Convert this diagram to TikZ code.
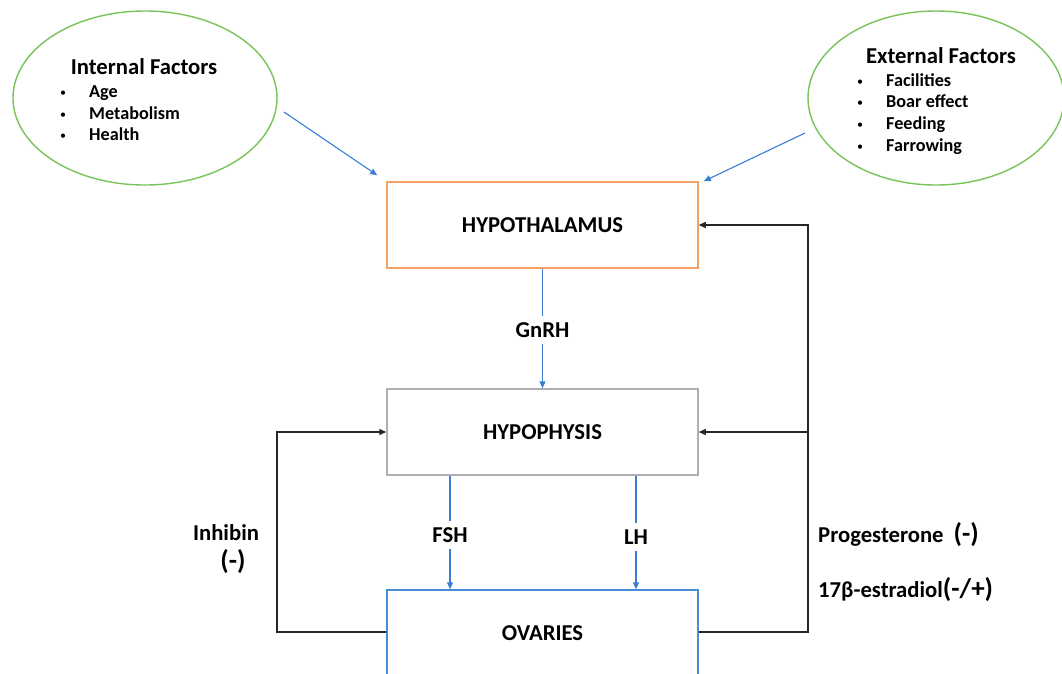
\documentclass[tikz,border=0pt]{standalone}
\usepackage{fontspec}
\setmainfont{Carlito}
\usetikzlibrary{arrows.meta,calc,shapes.geometric}
\definecolor{arrowblue}{RGB}{58,125,212}
\definecolor{boxorange}{RGB}{245,160,100}
\definecolor{boxgray}{RGB}{175,175,175}
\definecolor{boxblue}{RGB}{70,140,215}
\definecolor{ellgreen}{RGB}{120,195,90}
\tikzset{
  base/.style={font=\bfseries\fontsize{22.7}{27}\selectfont},
  item/.style={font=\bfseries\fontsize{18.2}{21.5}\selectfont, inner sep=0pt},
  bul/.style={font=\fontsize{12}{14}\selectfont, inner sep=0pt},
  factor/.style={draw=ellgreen, line width=1.4pt, ellipse, minimum height=174pt, inner sep=0pt},
  organ/.style={base, line width=1.5pt, minimum width=311pt, minimum height=86pt, inner sep=0pt},
  lbl/.style={base, inner sep=3pt},
  bluearrow/.style={draw=arrowblue, line width=1.1pt, -{Triangle[length=7pt,width=6pt]}},
  blueline/.style={draw=arrowblue, line width=1.1pt},
  fb/.style={draw=black!85, line width=1.2pt},
  fbarrow/.style={fb, -{Triangle[length=7pt,width=6pt]}}
}
\begin{document}
\begin{tikzpicture}[x=1pt,y=-1pt]
\clip (0,0) rectangle (1062,673);
\fill[white] (0,0) rectangle (1062,673);

% factor ellipses
\node[factor, minimum width=264pt] (int) at (145,98) {};
\node[factor, minimum width=256pt] (ext) at (936,98) {};
\node[base, anchor=base, inner sep=0pt] (intT) at (144,74) {Internal Factors};
\node[base, anchor=base, inner sep=0pt] (extT) at (941,63) {External Factors};
\foreach \t/\y [count=\i] in {Age/97, Metabolism/119, Health/140}{
  \node[bul, anchor=base] (intb\i) at (63,\y-1) {\textbullet};
  \node[item, anchor=base west] (inti\i) at (89,\y) {\t};
}
\foreach \t/\y [count=\i] in {Facilities/86, Boar effect/107, Feeding/129, Farrowing/151}{
  \node[bul, anchor=base] (extb\i) at (860,\y-1) {\textbullet};
  \node[item, anchor=base west] (exti\i) at (886,\y) {\t};
}

% organ boxes
\node[organ, draw=boxorange] (hyp) at (542.5,225) {HYPOTHALAMUS};
\node[organ, draw=boxgray] (pit) at (542.5,432) {HYPOPHYSIS};
\node[organ, draw=boxblue] (ova) at (542.5,633) {OVARIES};

% factor arrows
\coordinate (ia) at (284,112);
\coordinate (ea) at (805,133);
\draw[bluearrow] (ia) -- ($(hyp.north west)+(-9,-6)$);
\draw[bluearrow] (ea) -- ($(hyp.north east)+(5,0)$);

% hormone labels and arrows
\node[lbl] (gnrh) at (542.5,330) {GnRH};
\draw[blueline] (hyp.south) -- ($(gnrh.north)+(0,-3)$);
\draw[bluearrow] ($(gnrh.south)+(0,3)$) -- (pit.north);

\node[lbl] (fsh) at (450,535) {FSH};
\node[lbl] (lh) at (636,537) {LH};
\draw[blueline] (pit.south -| fsh) -- ($(fsh.north)+(0,-3)$);
\draw[bluearrow] ($(fsh.south)+(0,3)$) -- (ova.north -| fsh);
\draw[blueline] (pit.south -| lh) -- ($(lh.north)+(0,-3)$);
\draw[bluearrow] ($(lh.south)+(0,3)$) -- (ova.north -| lh);

% feedback loops
\coordinate (lc) at (277,632);
\draw[fbarrow] (ova.west |- lc) -- (lc) |- (pit.west);
\coordinate (rc) at (808,632);
\coordinate (rm) at (808,432);
\coordinate (rt) at (808,225);
\draw[fbarrow] (ova.east |- rc) -- (rc) -- (rt) -- (hyp.east);
\draw[fbarrow] (rm) -- (pit.east);

% feedback labels
\node[base, anchor=base, inner sep=0pt] (inh) at (226,540) {Inhibin};
\node[base, anchor=base, inner sep=0pt, font=\bfseries\fontsize{27}{30}\selectfont] (inhs) at (233,569) {(-)};
\node[base, anchor=base west, inner sep=0pt] (prog) at (818,542) {Progesterone\hspace{10pt}{\fontsize{27}{30}\selectfont(-)}};
\node[base, anchor=base west, inner sep=0pt] (estr) at (818,597) {17β-estradiol{\fontsize{27}{30}\selectfont(-/+)}};
\end{tikzpicture}
\end{document}
